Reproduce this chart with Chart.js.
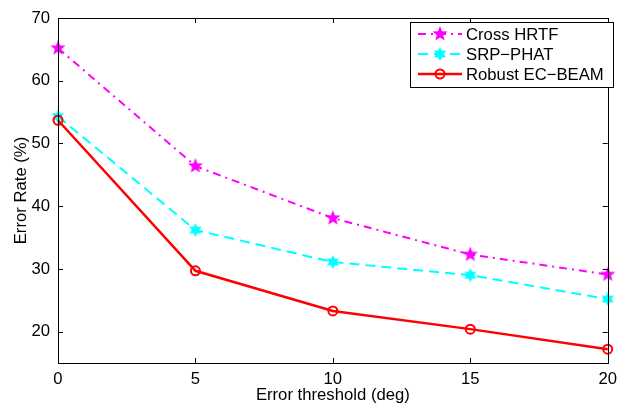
<!DOCTYPE html>
<html>
<head>
<meta charset="utf-8">
<script src="https://cdn.jsdelivr.net/npm/chart.js@4"></script>
<style>
  html, body { margin: 0; padding: 0; background: #fff; }
  #wrap { width: 623px; height: 405px; }
</style>
</head>
<body>
<div id="wrap"><canvas id="myChart" width="623" height="405"></canvas></div>
<script>
// data
const thresholds = [0, 5, 10, 15, 20];
const crossHrtf = [65.2, 46.4, 38.1, 32.3, 29.1];
const srpPhat = [54.3, 36.2, 31.1, 29.0, 25.2];
const robustEcBeam = [53.7, 29.7, 23.3, 20.4, 17.2];
const seriesNames = ["Cross HRTF", "SRP\u2212PHAT", "Robust EC\u2212BEAM"];
const xTicks = [0, 5, 10, 15, 20];
const yTicks = [20, 30, 40, 50, 60, 70];

const FONT = "Liberation Sans, Arial, Helvetica, sans-serif";
const FSIZE = 16.7;

// filled star markers (matlab pentagram / hexagram)
function makeStar(n, outer, inner, color) {
  const c = document.createElement("canvas");
  const s = Math.ceil(outer * 2 + 2);
  c.width = s;
  c.height = s;
  const g = c.getContext("2d");
  g.translate(s / 2, s / 2);
  g.beginPath();
  for (let i = 0; i < n * 2; i++) {
    const r = i % 2 === 0 ? outer : inner;
    const a = -Math.PI / 2 + (i * Math.PI) / n;
    const x = r * Math.cos(a), y = r * Math.sin(a);
    if (i === 0) g.moveTo(x, y);
    else g.lineTo(x, y);
  }
  g.closePath();
  g.fillStyle = color;
  g.fill();
  return c;
}
const pentagram = makeStar(5, 8, 3.4, "#ff00ff");
const hexagram = makeStar(6, 7, 3.8, "#00ffff");

function toPoints(ys) {
  return thresholds.map((x, i) => ({ x: x, y: ys[i] }));
}

// box, inward ticks and legend like the matlab figure
const matlabAxes = {
  id: "matlabAxes",
  afterDraw(chart) {
    const ctx = chart.ctx;
    const a = chart.chartArea;
    const xs = chart.scales.x, ys = chart.scales.y;
    ctx.save();
    ctx.strokeStyle = "#000";
    ctx.lineWidth = 1;
    ctx.setLineDash([]);
    ctx.strokeRect(Math.round(a.left) + 0.5, Math.round(a.top) + 0.5,
      Math.round(a.right - a.left), Math.round(a.bottom - a.top));
    ctx.beginPath();
    xTicks.forEach((v) => {
      const px = Math.round(xs.getPixelForValue(v)) + 0.5;
      ctx.moveTo(px, a.bottom); ctx.lineTo(px, a.bottom - 5);
      ctx.moveTo(px, a.top); ctx.lineTo(px, a.top + 5);
    });
    yTicks.forEach((v) => {
      const py = Math.round(ys.getPixelForValue(v)) + 0.5;
      ctx.moveTo(a.left, py); ctx.lineTo(a.left + 5, py);
      ctx.moveTo(a.right, py); ctx.lineTo(a.right - 5, py);
    });
    ctx.stroke();

    // legend
    const bx = 410, by = 22, bw = 203, bh = 65;
    ctx.fillStyle = "#fff";
    ctx.fillRect(bx, by, bw, bh);
    ctx.strokeRect(bx + 0.5, by + 0.5, bw, bh);
    chart.data.datasets.forEach((ds, i) => {
      const cy = by + 12 + i * 20;
      ctx.strokeStyle = ds.borderColor;
      ctx.lineWidth = ds.borderWidth;
      ctx.setLineDash(ds.borderDash || []);
      ctx.beginPath();
      ctx.moveTo(418, cy);
      ctx.lineTo(462, cy);
      ctx.stroke();
      ctx.setLineDash([]);
      if (ds.pointStyle === "circle") {
        ctx.lineWidth = ds.pointBorderWidth;
        ctx.beginPath();
        ctx.arc(440, cy, ds.pointRadius, 0, Math.PI * 2);
        ctx.stroke();
      } else {
        const im = ds.pointStyle;
        ctx.drawImage(im, 440 - im.width / 2, cy - im.height / 2);
      }
      ctx.fillStyle = "#000";
      ctx.font = FSIZE + "px " + FONT;
      ctx.textBaseline = "middle";
      ctx.textAlign = "left";
      ctx.fillText(ds.label, 466, cy + 1);
    });
    ctx.restore();
  },
};

const ctx = document.getElementById("myChart");

new Chart(ctx, {
  type: "line",
  data: {
    datasets: [
      {
        label: seriesNames[0],
        data: toPoints(crossHrtf),
        borderColor: "#ff00ff",
        backgroundColor: "#ff00ff",
        borderWidth: 2,
        borderDash: [8, 5, 2, 5],
        pointStyle: pentagram,
        order: 2,
        clip: false,
      },
      {
        label: seriesNames[1],
        data: toPoints(srpPhat),
        borderColor: "#00ffff",
        backgroundColor: "#00ffff",
        borderWidth: 2,
        borderDash: [10, 6],
        pointStyle: hexagram,
        order: 1,
        clip: false,
      },
      {
        label: seriesNames[2],
        data: toPoints(robustEcBeam),
        borderColor: "#ff0000",
        backgroundColor: "rgba(0,0,0,0)",
        borderWidth: 2.5,
        pointStyle: "circle",
        pointRadius: 4.5,
        pointBorderWidth: 2,
        pointBorderColor: "#ff0000",
        order: 0,
        clip: false,
      },
    ],
  },
  options: {
    responsive: false,
    animation: false,
    layout: { padding: { top: 14, right: 7, left: 0, bottom: 0 } },
    plugins: {
      legend: { display: false },
      tooltip: { enabled: false },
    },
    scales: {
      x: {
        type: "linear",
        min: 0,
        max: 20,
        afterBuildTicks: (s) => { s.ticks = xTicks.map((v) => ({ value: v })); },
        afterFit: (s) => { s.height = 42; },
        grid: { display: false, drawTicks: false },
        border: { display: false },
        ticks: { color: "#000", font: { family: FONT, size: FSIZE }, padding: 6, maxRotation: 0 },
        title: {
          display: true,
          text: "Error threshold (deg)",
          color: "#000",
          font: { family: FONT, size: FSIZE },
          padding: { top: 0, bottom: 0 },
        },
      },
      y: {
        min: 15,
        max: 70,
        afterBuildTicks: (s) => { s.ticks = yTicks.map((v) => ({ value: v })); },
        afterFit: (s) => { s.width = 58; },
        grid: { display: false, drawTicks: false },
        border: { display: false },
        ticks: { color: "#000", font: { family: FONT, size: FSIZE }, padding: 8 },
        title: {
          display: true,
          text: "Error Rate (%)",
          color: "#000",
          font: { family: FONT, size: FSIZE },
          padding: { top: 11, bottom: 0 },
        },
      },
    },
  },
  plugins: [matlabAxes],
});
</script>
</body>
</html>
